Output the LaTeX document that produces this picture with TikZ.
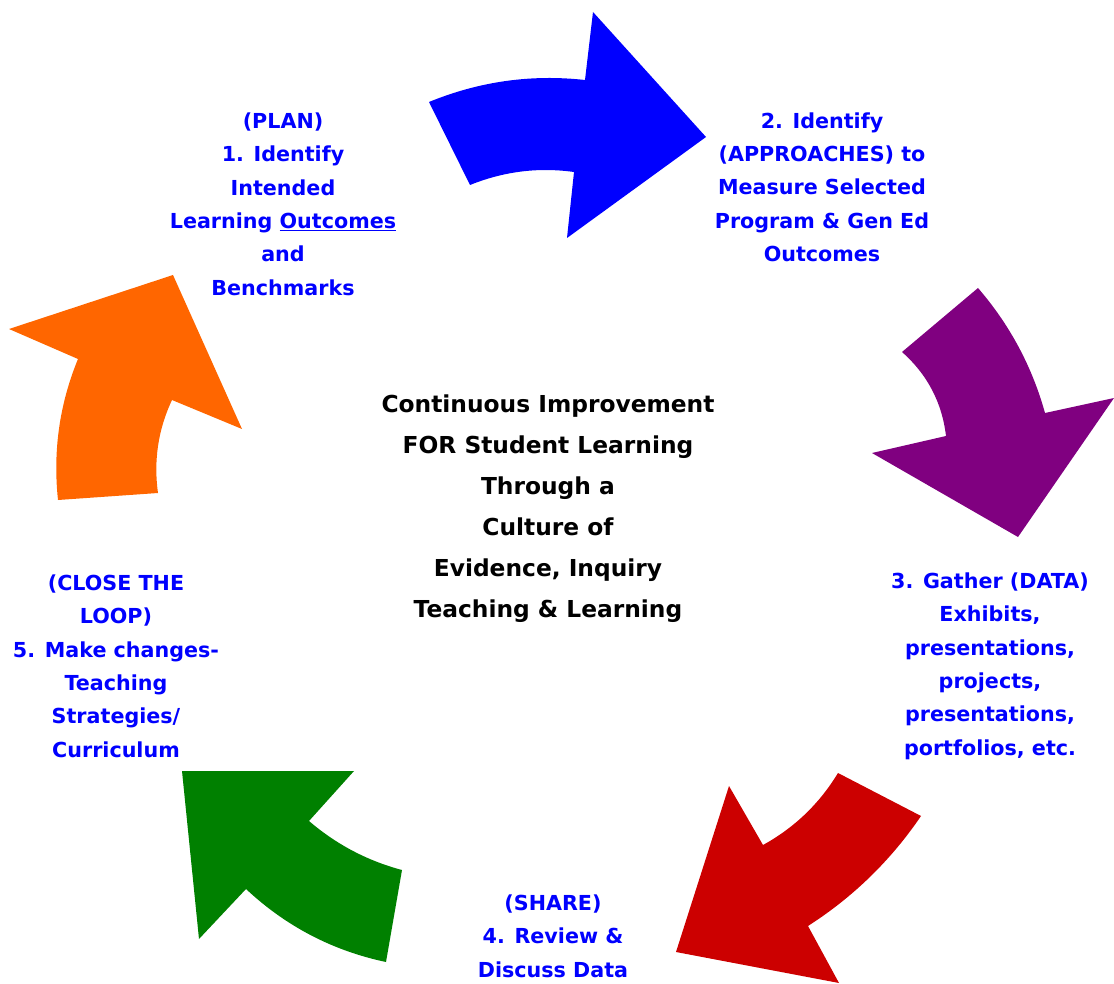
\documentclass[tikz,border=0pt]{standalone}
\usepackage{fontspec}
\setmainfont{DejaVu Sans}
\definecolor{stageblue}{HTML}{0000FF}
\definecolor{arrblue}{HTML}{0000FF}
\definecolor{arrpurple}{HTML}{800080}
\definecolor{arrred}{HTML}{CC0000}
\definecolor{arrgreen}{HTML}{008000}
\definecolor{arrorange}{HTML}{FF6600}
\begin{document}
\begin{tikzpicture}[x=0.75pt,y=-0.75pt]
\tikzset{stage/.style={align=center,text=stageblue,inner sep=0pt,
  font=\fontsize{15.5}{25}\selectfont\bfseries},
title/.style={align=center,inner sep=0pt,
  font=\fontsize{17.5}{30.75}\selectfont\bfseries},
}
\useasboundingbox (0,0) rectangle (1114,984);

\fill[arrblue] (429,102) .. controls (479,81.5) and (531,74) .. (585,80) -- (593,12)
  -- (706,137) -- (567,238) -- (574,172) .. controls (538,167) and (503.5,171.5) .. (470,185)
  -- cycle;
\fill[arrpurple] (978,288) .. controls (1009.7,324.7) and (1032,366.3) .. (1045,413)
  -- (1114,398) -- (1018,537) -- (872,453) -- (946,436)
  .. controls (942,402.4) and (927.3,374.4) .. (902,352) -- cycle;
\fill[arrred] (838,773) -- (921,816) .. controls (890.8,860.4) and (853.2,897) .. (808,926)
  -- (839,983) -- (676,952) -- (729,786) -- (763,845)
  .. controls (794.4,827.7) and (819.4,803.7) .. (838,773) -- cycle;
\fill[arrgreen] (354,771) -- (182,771) -- (199,939) -- (246,889)
  .. controls (285.9,926.3) and (332.5,950.7) .. (386,962) -- (402,870)
  .. controls (367.3,860.8) and (336.3,844.4) .. (309,821) -- cycle;
\fill[arrorange] (58,500) -- (158,493) .. controls (153.5,460.6) and (158.1,429.6) .. (172,400)
  -- (242,429) -- (173,275) -- (9,329) -- (78,359)
  .. controls (59.4,404.3) and (52.8,451.3) .. (58,500) -- cycle;

\node[title] (goal) at (548,509) {Continuous Improvement\\FOR Student Learning\\Through a\\
  Culture of\\Evidence, Inquiry\\Teaching \& Learning};

\node[stage] (plan) at (283,204) {(PLAN)\\1. Identify\\Intended\\
  Learning \underline{Outcomes}\\and\\Benchmarks};
\node[stage] (approach) at (822,187) {2. Identify\\(APPROACHES) to\\Measure Selected\\
  Program \& Gen Ed\\Outcomes};
\node[stage] (data) at (990,666) {3. Gather (DATA)\\Exhibits,\\presentations,\\
  projects,\\presentations,\\portfolios, etc.};
\node[stage] (share) at (553,936) {(SHARE)\\4. Review \&\\Discuss Data};
\node[stage] (close) at (116,666) {(CLOSE THE\\LOOP)\\5. Make changes-\\
  Teaching\\Strategies/\\Curriculum};

\end{tikzpicture}
\end{document}
